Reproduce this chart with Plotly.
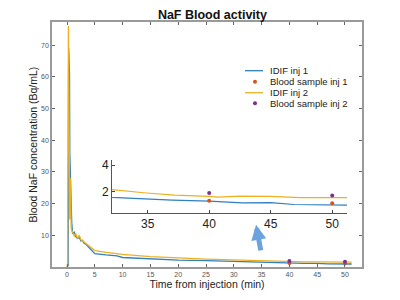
import plotly.graph_objects as go

# IDIF injection 1 (blue)
t1 = [0, 0.2, 0.3, 0.4, 0.45, 0.5, 0.6, 0.7, 0.85, 1.0, 1.3, 1.6, 1.9, 2.2, 2.5, 2.8, 3.0, 3.5, 4, 5, 7, 9, 10, 12, 15, 20, 25, 30, 32.1, 34.9, 37, 40, 42.7, 45, 46.9, 51.2]
idif1 = [0, 0.5, 69, 62, 61, 36, 27, 22, 14, 10.5, 11, 9.5, 9.0, 9.3, 8.2, 8.4, 7.6, 7.0, 6.0, 4.2, 3.8, 3.5, 3.0, 2.8, 2.5, 2.2, 2.0, 1.7, 1.54, 1.41, 1.34, 1.26, 1.13, 1.15, 1.0, 0.95]

# IDIF injection 2 (yellow)
t2 = [0, 0.1, 0.25, 0.35, 0.5, 0.6, 0.75, 1.0, 1.3, 1.6, 1.9, 2.2, 2.5, 2.8, 3.0, 4, 5, 7, 10, 15, 20, 25, 30, 32.1, 34.9, 37.2, 40, 40.7, 42.5, 45, 47.4, 51.2]
idif2 = [0, 1, 76, 45, 15, 28, 12, 11, 9.8, 10.4, 9.0, 10.0, 8.6, 8.3, 8.0, 6.5, 5.2, 4.6, 4.0, 3.3, 2.8, 2.5, 2.25, 2.13, 1.88, 1.72, 1.62, 1.57, 1.64, 1.62, 1.52, 1.52]

# Blood samples
ts = [40, 50]
bs1 = [1.29, 1.10]
bs2 = [1.88, 1.69]

legend_labels = ["IDIF inj 1", "Blood sample inj 1", "IDIF inj 2", "Blood sample inj 2"]

BLUE = "#2f7fc1"
ORANGE = "#D95319"
YELLOW = "#EDB120"
PURPLE = "#7E2F8E"
FONT = "Liberation Sans, Arial, sans-serif"

fig = go.Figure()
fig.add_trace(go.Scatter(x=t1, y=idif1, mode="lines", line=dict(color=BLUE, width=1.3), name=legend_labels[0]))
fig.add_trace(go.Scatter(x=ts, y=bs1, mode="markers", marker=dict(color=ORANGE, size=4), name=legend_labels[1]))
fig.add_trace(go.Scatter(x=t2, y=idif2, mode="lines", line=dict(color=YELLOW, width=1.3), name=legend_labels[2]))
fig.add_trace(go.Scatter(x=ts, y=bs2, mode="markers", marker=dict(color=PURPLE, size=4), name=legend_labels[3]))

# inset
fig.add_trace(go.Scatter(x=t1, y=idif1, mode="lines", line=dict(color=BLUE, width=1.2), xaxis="x2", yaxis="y2"))
fig.add_trace(go.Scatter(x=t2, y=idif2, mode="lines", line=dict(color=YELLOW, width=1.2), xaxis="x2", yaxis="y2"))
fig.add_trace(go.Scatter(x=ts, y=bs1, mode="markers", marker=dict(color=ORANGE, size=4), xaxis="x2", yaxis="y2"))
fig.add_trace(go.Scatter(x=ts, y=bs2, mode="markers", marker=dict(color=PURPLE, size=4), xaxis="x2", yaxis="y2"))

axcol = "#9a9a9a"
fig.update_layout(
    width=400, height=300,
    margin=dict(l=44, r=46, t=14, b=41),
    paper_bgcolor="white", plot_bgcolor="white",
    font=dict(family=FONT, color="#222"),
    showlegend=False,
    title=dict(text="<b>NaF Blood activity</b>", x=0.5175, xanchor="center", y=0.979, yanchor="middle",
               xref="paper", yref="container", font=dict(size=12.5, color="#111")),
    xaxis=dict(range=[-2.7, 53.06], tickvals=[0, 5, 10, 15, 20, 25, 30, 35, 40, 45, 50], automargin=False,
               ticks="inside", ticklen=3, tickcolor="#666", mirror="ticks", showline=True, linecolor=axcol, linewidth=1.5,
               showgrid=False, zeroline=False, tickfont=dict(size=7, color="#555"),
               title=dict(text="Time from injection (min)", font=dict(size=10.5, color="#222"), standoff=2)),
    yaxis=dict(range=[0, 77.3], tickvals=[10, 20, 30, 40, 50, 60, 70], automargin=False,
               ticks="inside", ticklen=3, tickcolor="#666", mirror="ticks", showline=True, linecolor=axcol, linewidth=1.5,
               showgrid=False, zeroline=False, tickfont=dict(size=7, color="#555")),
    xaxis2=dict(domain=[0.1935, 0.9516], anchor="y2", range=[32.1, 51.2], tickvals=[35, 40, 45, 50], automargin=False,
                ticks="inside", ticklen=3, tickcolor="#444", showline=True, linecolor="#555", linewidth=1,
                showgrid=False, zeroline=False, tickfont=dict(size=12, color="#222")),
    yaxis2=dict(domain=[0.2204, 0.4367], anchor="x2", range=[0.35, 4.4], tickvals=[2, 4], automargin=False,
                ticks="inside", ticklen=3, tickcolor="#444", showline=True, linecolor="#555", linewidth=1,
                showgrid=False, zeroline=False, tickfont=dict(size=12, color="#222")),
)

# y-axis title placed as rotated text
fig.add_annotation(x=-0.0613, y=0.5, xref="paper", yref="paper", text="Blood NaF concentration (Bq/mL)",
                   textangle=-90, showarrow=False, xanchor="center", yanchor="middle",
                   font=dict(size=10.5, color="#222"))

# manual compact legend (MATLAB style)
rows_y = [0.8012, 0.7563, 0.7114, 0.6682]
kinds = [("line", BLUE), ("marker", ORANGE), ("line", YELLOW), ("marker", PURPLE)]
for (kind, col), yy, lab in zip(kinds, rows_y, legend_labels):
    if kind == "line":
        fig.add_shape(type="line", xref="paper", yref="paper", x0=0.6226, x1=0.6806, y0=yy, y1=yy,
                      line=dict(color=col, width=1.3))
    else:
        fig.add_shape(type="circle", xref="paper", yref="paper", xsizemode="pixel", ysizemode="pixel",
                      xanchor=0.6548, yanchor=yy, x0=-2, x1=2, y0=-2, y1=2,
                      fillcolor=col, line=dict(color=col, width=0))
    fig.add_annotation(x=0.6968, y=yy, xref="paper", yref="paper", text=lab, showarrow=False,
                       xanchor="left", yanchor="middle", font=dict(size=9.5, color="#222"))

fig.add_annotation(x=34.0, y=13.3, xref="x", yref="y", ax=5, ay=27,
                   showarrow=True, arrowhead=2, arrowsize=0.6, arrowwidth=5, arrowcolor="#6aa3dd", text="")

fig.write_html("out.html")
